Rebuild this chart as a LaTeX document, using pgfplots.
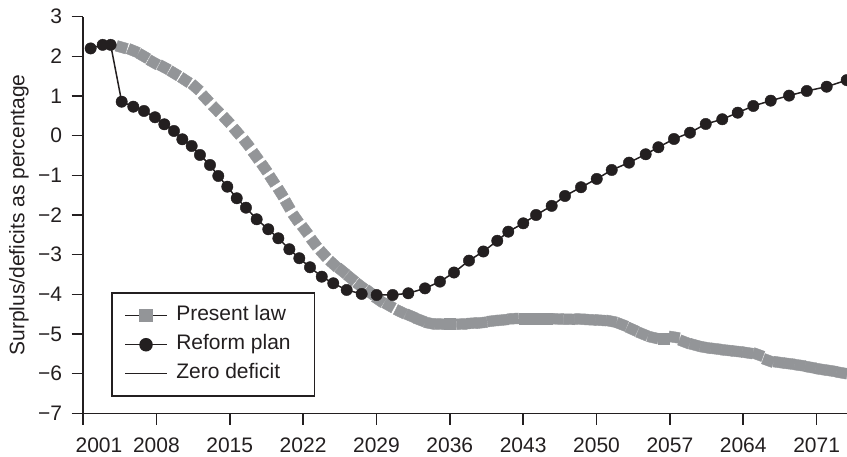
\documentclass[border=0pt]{standalone}
\usepackage{pgfplots}
\pgfplotsset{compat=1.18}
\usepackage{pgfplotstable}
\usepackage{fontspec}
\setmainfont{Liberation Sans}

\definecolor{presgray}{HTML}{939598}
\definecolor{inkblack}{HTML}{231F20}

% present law: year, value, marker angle (follows the curve)
\pgfplotstableread{
x y a
2004.69 2.229 -16
2005.80 2.143 -22
2006.75 2.01 -30
2007.71 1.85 -29
2008.73 1.725 -28
2009.71 1.573 -31
2010.73 1.404 -33
2011.75 1.22 -41
2012.71 0.943 -47
2013.69 0.666 -46
2014.71 0.396 -47
2015.67 0.10 -49
2016.62 -0.19 -52
2017.48 -0.51 -54
2018.30 -0.807 -55
2019.06 -1.117 -57
2019.86 -1.437 -58
2020.53 -1.747 -60
2021.30 -2.083 -55
2022.18 -2.378 -53
2023.04 -2.70 -53
2023.93 -2.983 -48
2024.88 -3.235 -42
2025.73 -3.41 -39
2026.57 -3.595 -39
2027.46 -3.785 -37
2028.39 -3.953 -37
2029.24 -4.143 -34
2030.20 -4.28 -29
2031.30 -4.44 -26
2032.28 -4.546 -23
2033.16 -4.647 -21
2034.11 -4.73 -11
2035.07 -4.75 -2
2036.02 -4.75 0
2037.14 -4.75 2
2038.09 -4.73 4
2039.04 -4.715 6
2040.09 -4.672 7
2041.05 -4.647 6
2042.06 -4.614 3
2043.18 -4.614 0
2044.13 -4.614 0
2045.25 -4.614 0
2046.35 -4.62 -1
2047.40 -4.63 -1
2048.40 -4.625 -2
2049.40 -4.64 -3
2050.40 -4.655 -4
2051.40 -4.68 -11
2052.40 -4.76 -21
2053.40 -4.88 -24
2054.40 -5.00 -22
2055.40 -5.09 -13
2056.40 -5.12 0
2057.40 -5.08 -9
2058.40 -5.20 -21
2059.40 -5.28 -15
2060.40 -5.34 -10
2061.40 -5.375 -7
2062.40 -5.41 -6
2063.40 -5.44 -6
2064.40 -5.475 -9
2065.40 -5.52 -20
2066.40 -5.67 -20
2067.40 -5.715 -8
2068.40 -5.75 -7
2069.40 -5.79 -8
2070.40 -5.84 -10
2071.40 -5.89 -9
2072.40 -5.93 -9
2073.40 -5.98 -10
2074.40 -6.03 -10
}\presentlaw

\pgfplotstableread{
x y
2001.73 2.20
2002.88 2.29
2003.64 2.29
2004.69 0.857
2005.80 0.731
2006.82 0.623
2007.87 0.464
2008.76 0.287
2009.68 0.119
2010.48 -0.091
2011.37 -0.26
2012.16 -0.486
2013.12 -0.739
2013.91 -1.016
2014.77 -1.286
2015.67 -1.578
2016.55 -1.815
2017.57 -2.108
2018.68 -2.36
2019.64 -2.587
2020.69 -2.864
2021.64 -3.09
2022.66 -3.318
2023.78 -3.555
2024.88 -3.722
2026.16 -3.89
2027.59 -3.99
2029.02 -4.017
2030.55 -4.017
2032.04 -3.974
2033.63 -3.85
2035.06 -3.68
2036.40 -3.45
2037.83 -3.15
2039.20 -2.92
2040.53 -2.65
2041.58 -2.42
2043.01 -2.21
2044.23 -2.0
2045.72 -1.77
2046.99 -1.52
2048.52 -1.30
2050.02 -1.09
2051.45 -0.865
2053.10 -0.68
2054.69 -0.469
2055.90 -0.292
2057.39 -0.083
2058.92 0.076
2060.42 0.295
2062.00 0.414
2063.47 0.58
2064.96 0.749
2066.62 0.883
2068.37 1.01
2070.06 1.127
2071.96 1.235
2073.87 1.40
}\reformplan

\begin{document}
\begin{tikzpicture}
\begin{axis}[%
width=764bp,
height=396.6bp,
scale only axis,
xmin=2001,
xmax=2073.9,
ymin=-7,
ymax=3,
axis x line*=bottom,
axis y line*=left,
axis line style={-, line width=1.6bp, draw=inkblack},
tick align=outside,
major tick length=11.5bp,
every tick/.style={line width=1.6bp, draw=inkblack},
xtick={2008,2015,...,2071},
xticklabels={2008,2015,2022,2029,2036,2043,2050,2057,2064,2071},
extra x ticks={2001},
extra x tick labels={2001},
extra x tick style={xticklabel style={xshift=16bp}},
ytick={-7,-6,...,3},
yticklabels={−7,−6,−5,−4,−3,−2,−1,0,1,2,3},
tick label style={font=\fontsize{21bp}{25bp}\selectfont, text=inkblack},
xticklabel style={yshift=-10bp},
yticklabel style={xshift=-6bp},
ylabel={Surplus/deficits as percentage},
ylabel style={at={(axis description cs:-0.0837,0.5)}, anchor=center, font=\fontsize{21bp}{25bp}\selectfont, text=inkblack},
legend image code/.code={\draw[mark repeat=2,mark phase=2,#1] plot coordinates {(0bp,0bp) (21bp,0bp) (42bp,0bp)};},
legend cell align=left,
legend style={at={(axis description cs:0.0366,0.041)}, anchor=south west, draw=inkblack, line width=1.6bp, fill=white,
  font=\fontsize{21bp}{25bp}\selectfont, text=inkblack, inner xsep=12.5bp, inner ysep=8bp, row sep=0pt,
  nodes={inner xsep=4.5bp, inner ysep=4.75bp, text height=15bp, text depth=4.5bp},
  /tikz/every odd column/.append style={column sep=4bp}}
]
\addplot[forget plot, scatter, only marks, mark=square*, mark size=5.4bp,
  scatter/use mapped color={draw=presgray, fill=presgray},
  visualization depends on={\thisrow{a} \as \myang},
  scatter/@pre marker code/.append code={\pgftransformrotate{\myang}}]
  table[x=x, y=y] {\presentlaw};

\addplot[forget plot, color=inkblack, line width=1.5bp, mark=*, mark size=5.7bp,
  mark options={fill=inkblack, draw=inkblack, line width=0.4bp}]
  table[x=x, y=y] {\reformplan};

\addlegendimage{line width=1.5bp, inkblack, mark=square*, mark size=5.8bp, mark options={draw=presgray, fill=presgray}}
\addlegendentry{Present law}
\addlegendimage{line width=1.5bp, inkblack, mark=*, mark size=6bp, mark options={fill=inkblack}}
\addlegendentry{Reform plan\hspace*{7bp}}
\addlegendimage{line width=1.5bp, inkblack}
\addlegendentry{Zero deficit}
\end{axis}
\pgfresetboundingbox
\useasboundingbox (-83bp,-43.7bp) rectangle (764bp,413.3bp);
\end{tikzpicture}
\end{document}
